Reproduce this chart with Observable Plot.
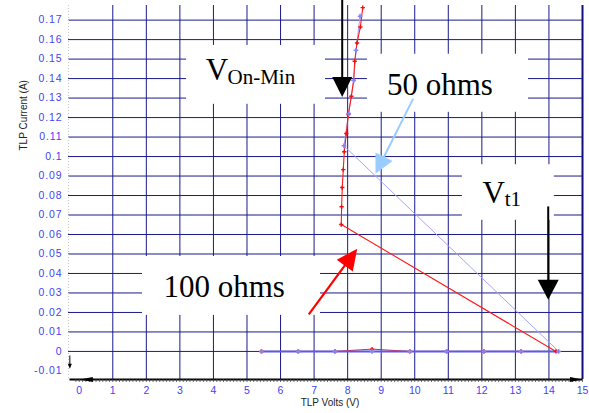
<!DOCTYPE html>
<html>
<head>
<meta charset="utf-8">
<script src="https://cdn.jsdelivr.net/npm/d3@7"></script>
<script src="https://cdn.jsdelivr.net/npm/@observablehq/plot@0.6"></script>
<style>
  html, body { margin: 0; padding: 0; background: #fff; }
  #chart svg { display: block; }
  g[aria-label="y-axis tick label"] text { letter-spacing: 0.9px; }
</style>
</head>
<body>
<div id="chart"></div>
<script>
// TLP sweep measured through the 100 ohm line (red): volts and amps, in sweep order
const redVolts = [5.43, 6.53, 7.62, 8.73, 9.85, 10.95, 12.06, 13.17, 14.21,
                  7.81, 7.82, 7.84, 7.87, 7.90, 7.96, 8.02, 8.11, 8.18, 8.21, 8.28, 8.38, 8.45];
const redAmps  = [0, 0, 0, 0.0012, 0, 0, 0, 0, 0,
                  0.0651, 0.0742, 0.0841, 0.0933, 0.1025, 0.1118, 0.1215, 0.1309, 0.1391, 0.1489, 0.1583, 0.1665, 0.1764];

// TLP sweep measured through the 50 ohm line (blue)
const blueVolts = [5.43, 6.53, 7.62, 8.73, 9.85, 10.95, 12.06, 13.17, 14.29,
                   7.89, 8.03, 8.18, 8.25, 8.37];
const blueAmps  = [0, 0, 0, 0, 0, 0, 0, 0, 0,
                   0.1055, 0.1220, 0.1390, 0.1545, 0.1720];

// Axis ticks
const xTicks = [0, 1, 2, 3, 4, 5, 6, 7, 8, 9, 10, 11, 12, 13, 14, 15];
const yTicks = [-0.01, 0, 0.01, 0.02, 0.03, 0.04, 0.05, 0.06, 0.07, 0.08, 0.09,
                0.1, 0.11, 0.12, 0.13, 0.14, 0.15, 0.16, 0.17];
const xGrid = [1, 2, 3, 4, 5, 6, 7, 8, 9, 10, 11, 12, 13, 14];
const yGrid = yTicks.filter(v => v >= 0);

// Callout labels (V, subscript) and their white backing boxes, in volts / amps
const labels = [
  {text: "V",        x: 3.77,  y: 0.1391, size: 31},
  {text: "On-Min",   x: 4.42,  y: 0.1371, size: 21},
  {text: "50 ohms",  x: 9.17,  y: 0.1314, size: 31},
  {text: "V",        x: 12.02, y: 0.0761, size: 31},
  {text: "t1",       x: 12.68, y: 0.0745, size: 21},
  {text: "100 ohms", x: 2.51,  y: 0.0279, size: 31}
];
const boxes = [
  {x1: 3.20,  x2: 7.34,  y1: 0.1268, y2: 0.1570},
  {x1: 8.59,  x2: 13.39, y1: 0.1227, y2: 0.1525},
  {x1: 11.42, x2: 14.16, y1: 0.0673, y2: 0.0958},
  {x1: 1.885, x2: 7.19,  y1: 0.0185, y2: 0.0487}
];
// Callout arrows: tail (x1, y1) to tip (x2, y2)
const arrows = [
  {x1: 7.838, y1: 0.182,  x2: 7.838, y2: 0.1305, color: "#000",    width: 2,   head: 20, ratio: 1.0},
  {x1: 13.978, y1: 0.0744, x2: 13.978, y2: 0.0265, color: "#000",  width: 2,   head: 20, ratio: 1.05},
  {x1: 9.954, y1: 0.1297, x2: 8.83,  y2: 0.0912, color: "#99ccff", width: 2,   head: 19, ratio: 1.0},
  {x1: 6.842, y1: 0.0190, x2: 8.285, y2: 0.0527, color: "#ff0000", width: 2.2, head: 21, ratio: 0.95},
  {x1: -0.28, y1: -0.0021, x2: -0.28, y2: -0.0089, color: "#000",  width: 1,   head: 5,  ratio: 0.8},
  // arrowheads at both ends of the voltage axis line
  {x1: 7, y1: -0.0144, x2: 0.017,  y2: -0.0144, color: "#000", width: 0, head: 13, ratio: 0.4},
  {x1: 7, y1: -0.0144, x2: 14.985, y2: -0.0144, color: "#000", width: 0, head: 12, ratio: 0.4}
];

const red = redVolts.map((v, i) => ({v, a: redAmps[i]}));
const blue = blueVolts.map((v, i) => ({v, a: blueAmps[i]}));

const W = 589, H = 413;
const marginLeft = 68, marginRight = 7, marginTop = 5, marginBottom = 34;
const xDomain = [-0.32, 15], yDomain = [-0.0144, 0.1775];
const px = d3.scaleLinear(xDomain, [marginLeft, W - marginRight]);
const py = d3.scaleLinear(yDomain, [H - marginBottom, marginTop]);

const navy = "#1a1a8c";
const tickBlue = "#4343f2";
const serif = "'Liberation Serif', 'Times New Roman', Times, serif";

// Filled arrowhead with its tip at the origin, pointing up before rotation
function headSymbol(ratio) {
  return {
    draw(context, size) {
      const len = 2 * Math.sqrt(size / Math.PI);
      const half = len * ratio / 2;
      context.moveTo(0, 0);
      context.lineTo(-half, len);
      context.lineTo(half, len);
      context.closePath();
    }
  };
}

const arrowMarks = arrows.flatMap(a => {
  const sx = px(a.x1), sy = py(a.y1), tx = px(a.x2), ty = py(a.y2);
  const d = Math.hypot(tx - sx, ty - sy);
  const ux = (tx - sx) / d, uy = (ty - sy) / d;
  const angle = Math.atan2(ux, -uy) * 180 / Math.PI;
  const shaft = {x1: a.x1, y1: a.y1, x2: px.invert(tx - ux * a.head * 0.5), y2: py.invert(ty - uy * a.head * 0.5)};
  const marks = [];
  if (a.width > 0) {
    marks.push(Plot.link([shaft], {x1: "x1", y1: "y1", x2: "x2", y2: "y2", stroke: a.color, strokeWidth: a.width}));
  }
  marks.push(Plot.dot([a], {x: "x2", y: "y2", r: a.head / 2, rotate: angle, symbol: headSymbol(a.ratio), fill: a.color, stroke: "none"}));
  return marks;
});

const minorTicks = d3.range(-1, 151).map(i => i / 10);
const axisY0 = yDomain[0];
const tickEnd = py.invert(H - marginBottom + 3);

const chart = Plot.plot({
  width: W,
  height: H,
  marginLeft, marginRight, marginTop, marginBottom,
  x: {domain: xDomain},
  y: {domain: yDomain},
  style: {background: "#fff", fontFamily: "'Liberation Sans', Arial, sans-serif", fontSize: "10.5px", overflow: "visible"},
  marks: [
    // grid
    Plot.ruleY(yGrid, {stroke: navy, strokeWidth: 1}),
    Plot.ruleX(xGrid, {stroke: navy, strokeWidth: 1}),
    Plot.ruleX([15], {stroke: "#10107a", strokeWidth: 2}),
    Plot.ruleX([xDomain[0]], {stroke: "#c8c8c8", strokeDasharray: "1,2"}),
    // white backing boxes for the callouts
    Plot.rect(boxes, {x1: "x1", x2: "x2", y1: "y1", y2: "y2", fill: "#fff"}),
    // series lines: the zero-current stretch of the blue sweep sits over the red one
    Plot.line(red.slice(0, 9), {x: "v", y: "a", stroke: "#ff1a1a", strokeWidth: 1}),
    Plot.line(blue.slice(0, 9), {x: "v", y: "a", stroke: "#5a5ae6", strokeWidth: 2}),
    Plot.line(blue.slice(8), {x: "v", y: "a", stroke: "#a4a4ff", strokeWidth: 1}),
    Plot.line(red.slice(8), {x: "v", y: "a", stroke: "#ff1a1a", strokeWidth: 1.1}),
    // sample markers
    Plot.dot(red, {x: "v", y: "a", symbol: "cross", r: 1.8, fill: "#ee1111", stroke: "none"}),
    Plot.dot(blue, {x: "v", y: "a", symbol: "cross", r: 2, fill: "#8484ff", stroke: "none"}),
    // voltage axis line with minor ticks
    Plot.link([{x1: -0.29, x2: 14.99}], {x1: "x1", x2: "x2", y1: () => axisY0, y2: () => axisY0, stroke: "#000", strokeWidth: 2}),
    Plot.ruleX(minorTicks, {y1: axisY0, y2: tickEnd, stroke: "#444", strokeWidth: 0.8}),
    // axes
    Plot.axisY(yTicks, {tickSize: 0, tickPadding: 6, tickFormat: d => String(d), fill: tickBlue, label: null}),
    Plot.axisX(xTicks, {tickSize: 0, tickPadding: 7, tickFormat: d => String(d), fill: tickBlue, label: null}),
    Plot.text(["TLP Volts (V)"], {text: d => d, frameAnchor: "bottom", dx: 4.5, dy: 26, fontSize: 10, fill: "#222"}),
    Plot.text(["TLP Current (A)"], {text: d => d, frameAnchor: "left", rotate: -90, dx: -45, dy: -42, fontSize: 10, fill: "#222"}),
    // callout text
    ...labels.map(l => Plot.text([l], {x: "x", y: "y", text: "text", fontSize: l.size, fontFamily: serif,
                                        textAnchor: "start", lineAnchor: "bottom", fill: "#000"})),
    // callout arrows
    ...arrowMarks
  ]
});

document.getElementById("chart").appendChild(chart);
</script>
</body>
</html>
